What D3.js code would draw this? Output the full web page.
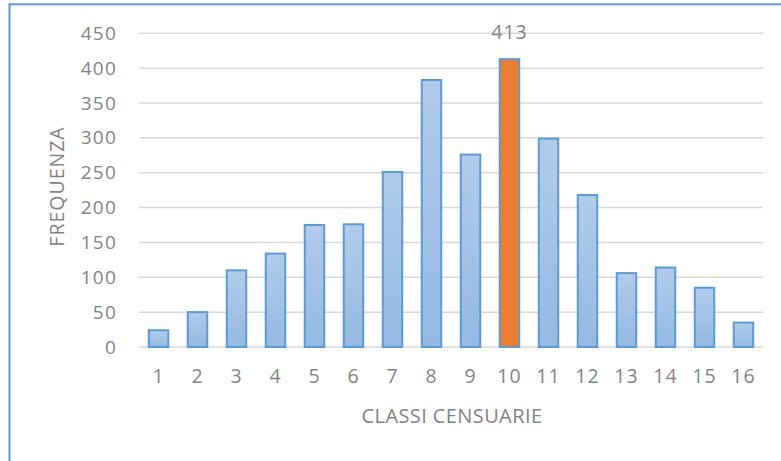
<!DOCTYPE html>
<html>
<head>
<meta charset="utf-8">
<script src="https://cdn.jsdelivr.net/npm/d3@7"></script>
<style>
  html, body { margin: 0; padding: 0; background: #fff; }
  svg { display: block; }
  text { font-family: "Open Sans", "Noto Sans", sans-serif; fill: #838383; }
</style>
</head>
<body>
<svg id="chart" width="781" height="461"></svg>
<script>
// Census classes and their frequencies
const classes = ["1","2","3","4","5","6","7","8","9","10","11","12","13","14","15","16"];
const frequencies = [24, 50, 110, 134, 175, 176, 251, 383, 276, 413, 299, 218, 106, 114, 85, 35];
const yTicks = [0, 50, 100, 150, 200, 250, 300, 350, 400, 450];
const highlightClass = "10";
const xTitle = "CLASSI CENSUARIE";
const yTitle = "FREQUENZA";

const svg = d3.select("#chart");
const W = 781, H = 461;
const plot = { left: 139, right: 763, top: 33.3, bottom: 347 };
const textColor = "#838383";

// Gradient for the regular bars
const defs = svg.append("defs");
const grad = defs.append("linearGradient")
  .attr("id", "barFill").attr("x1", 0).attr("y1", 0).attr("x2", 0).attr("y2", 1);
grad.append("stop").attr("offset", "0%").attr("stop-color", "#b1cbea");
grad.append("stop").attr("offset", "100%").attr("stop-color", "#94b9e3");

// Outer chart frame
svg.append("rect")
  .attr("x", 9.5).attr("y", 4.3)
  .attr("width", W + 20).attr("height", H + 20)
  .attr("fill", "none").attr("stroke", "#5b9bd5").attr("stroke-width", 2);

const x = d3.scaleBand()
  .domain(classes)
  .range([plot.left, plot.right])
  .paddingInner(0.5)
  .paddingOuter(0.25);

const y = d3.scaleLinear()
  .domain([0, 450])
  .range([plot.bottom, plot.top]);

// Horizontal gridlines
svg.append("g")
  .selectAll("line")
  .data(yTicks)
  .join("line")
  .attr("x1", plot.left).attr("x2", plot.right)
  .attr("y1", d => y(d)).attr("y2", d => y(d))
  .attr("stroke", "#d9d9d9").attr("stroke-width", 1.5);

// Y axis labels
const yAxis = d3.axisLeft(y).tickValues(yTicks).tickSize(0).tickPadding(0);
svg.append("g")
  .attr("transform", `translate(${plot.left - 22},0)`)
  .call(yAxis)
  .call(g => g.select(".domain").remove())
  .call(g => g.selectAll("text")
    .attr("font-size", 19)
    .attr("letter-spacing", 1.2)
    .attr("fill", textColor)
    .style("font-family", "\"Open Sans\", sans-serif"));

// X axis labels
const xAxis = d3.axisBottom(x).tickSize(0).tickPadding(0);
svg.append("g")
  .attr("transform", `translate(0,${plot.bottom + 30})`)
  .call(xAxis)
  .call(g => g.select(".domain").remove())
  .call(g => g.selectAll("text")
    .attr("font-size", 19.5)
    .attr("letter-spacing", 1)
    .attr("fill", textColor)
    .attr("dy", "0.32em")
    .style("font-family", "\"Open Sans\", sans-serif"));

// Bars
svg.append("g")
  .selectAll("rect")
  .data(classes.map((c, i) => ({ c, v: frequencies[i] })))
  .join("rect")
  .attr("x", d => x(d.c))
  .attr("y", d => y(d.v))
  .attr("width", x.bandwidth())
  .attr("height", d => y(0) - y(d.v))
  .attr("fill", d => d.c === highlightClass ? "#ed7d31" : "url(#barFill)")
  .attr("stroke", "#5b9bd5")
  .attr("stroke-width", 2);

// Value label on the highlighted bar
const hi = classes.indexOf(highlightClass);
svg.append("text")
  .attr("x", x(highlightClass) + x.bandwidth() / 2)
  .attr("y", y(frequencies[hi]) - 20)
  .attr("text-anchor", "middle")
  .attr("font-size", 19.5)
  .attr("letter-spacing", 1)
  .text(frequencies[hi]);

// Axis titles
svg.append("text")
  .attr("x", (plot.left + plot.right) / 2 + 1)
  .attr("y", 423)
  .attr("text-anchor", "middle")
  .attr("font-size", 20)
  .attr("letter-spacing", 0.4)
  .text(xTitle);

svg.append("text")
  .attr("transform", `translate(64,186.5) rotate(-90)`)
  .attr("text-anchor", "middle")
  .attr("font-size", 19.5)
  .attr("letter-spacing", 1)
  .text(yTitle);
</script>
</body>
</html>
